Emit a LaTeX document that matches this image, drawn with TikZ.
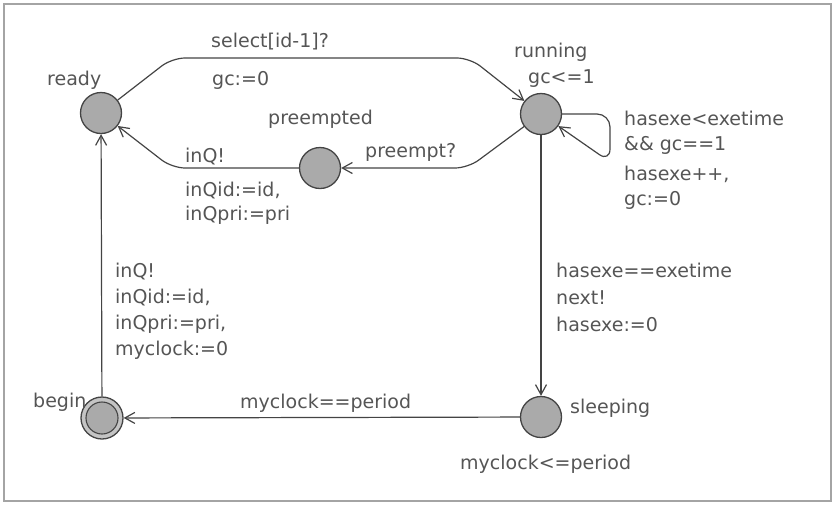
\documentclass[tikz,border=0pt]{standalone}
\usepackage{fontspec}
\setmainfont{DejaVu Sans}
\usetikzlibrary{arrows.meta}
\definecolor{edgecol}{HTML}{444444}
\definecolor{textcol}{HTML}{555555}
\definecolor{locfill}{HTML}{AAAAAA}
\definecolor{ringfill}{HTML}{C4C4C4}
\definecolor{framecol}{HTML}{A4A4A4}
\tikzset{
  loc/.style={circle, draw=edgecol, fill=locfill, line width=1.3pt,
              minimum size=41pt, inner sep=0pt},
  initloc/.style={loc, fill=ringfill, minimum size=42pt},
  innerloc/.style={circle, draw=edgecol, fill=locfill, line width=1.1pt,
              minimum size=32pt, inner sep=0pt},
  lbl/.style={anchor=base west, inner sep=0pt, text=textcol,
              font=\fontsize{19}{24}\selectfont},
  trans/.style={draw=edgecol, line width=1.2pt, rounded corners=13pt,
              -{Straight Barb[length=10pt,width=11pt,line width=1.2pt]}},
}
\begin{document}
\begin{tikzpicture}[x=1pt, y=-1pt]
\useasboundingbox (0,0) rectangle (833,504);
% frame
\draw[framecol, line width=2.6pt] (4,4) rectangle (831,501);

% locations
\node[loc] (ready) at (101,113) {};
\node[loc] (running) at (541,114) {};
\node[loc] (preempted) at (320,168) {};
\node[loc] (sleeping) at (541,417) {};
\node[initloc] (begin) at (102,418) {};
\node[innerloc] (beginin) at (begin.center) {};

% location names and invariants
\node[lbl] (nready) at (47,85) {ready};
\node[lbl] (nrunning) at (514,57) {running};
\node[lbl] (invrunning) at (528,83) {gc<=1};
\node[lbl] (npreempted) at (268,124) {preempted};
\node[lbl] (nbegin) at (33,407) {begin};
\node[lbl] (nsleeping) at (570,413) {sleeping};
\node[lbl] (invsleeping) at (460,469) {myclock<=period};

% ready -> running
\draw[trans] (ready) -- (172,58) -- (470,58) -- (running);
\node[lbl] (l1a) at (211,47) {select[id-1]?};
\node[lbl] (l1b) at (212,85) {gc:=0};

% running -> preempted
\draw[trans] (running) -- (468,168) -- (preempted);
\node[lbl] (l2a) at (365,157) {preempt?};

% preempted -> ready
\draw[trans] (preempted) -- (172,168) -- (ready);
\node[lbl] (l3a) at (185,162) {inQ!};
\node[lbl] (l3b) at (185,196) {inQid:=id,};
\node[lbl] (l3c) at (185,220) {inQpri:=pri};

% running self loop
\draw[trans] (running) -- (610,114) -- (610,162) -- (running);
\node[lbl] (l4a) at (624,125) {hasexe<exetime};
\node[lbl] (l4b) at (624,150) {\&\& gc==1};
\node[lbl] (l4c) at (624,180) {hasexe++,};
\node[lbl] (l4d) at (624,205) {gc:=0};

% running -> sleeping
\draw[trans] (running) -- (sleeping);
\node[lbl] (l5a) at (556,277) {hasexe==exetime};
\node[lbl] (l5b) at (556,304) {next!};
\node[lbl] (l5c) at (556,331) {hasexe:=0};

% sleeping -> begin
\draw[trans] (sleeping) -- (begin);
\node[lbl] (l6a) at (240,408) {myclock==period};

% begin -> ready
\draw[trans] (begin) -- (ready);
\node[lbl] (l7a) at (115,277) {inQ!};
\node[lbl] (l7b) at (115,303) {inQid:=id,};
\node[lbl] (l7c) at (115,329) {inQpri:=pri,};
\node[lbl] (l7d) at (115,355) {myclock:=0};
\end{tikzpicture}
\end{document}
